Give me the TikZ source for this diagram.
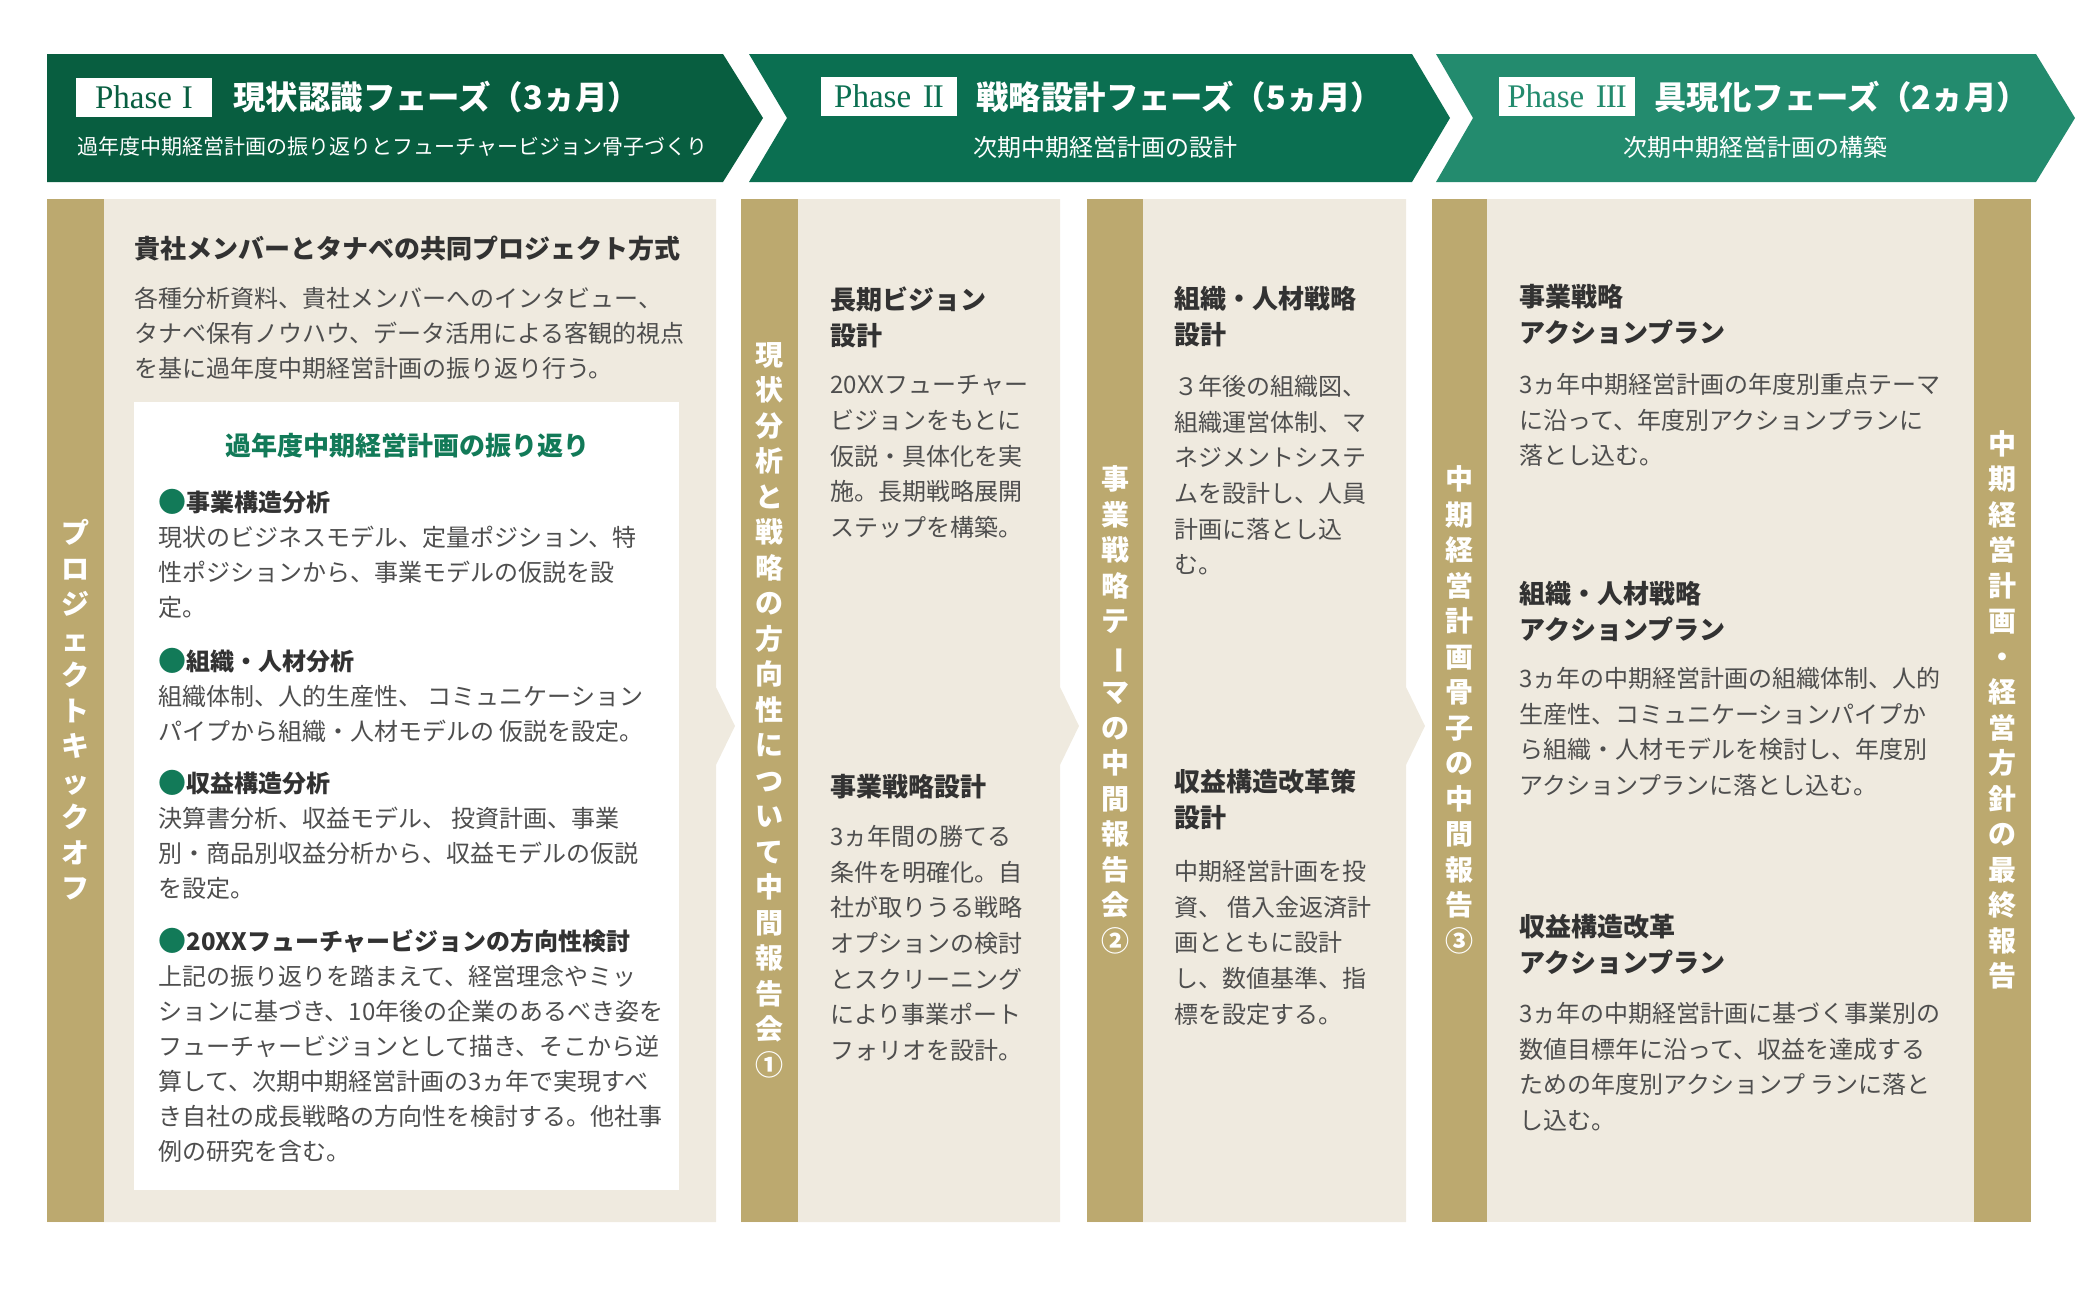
\documentclass[tikz,border=0pt]{standalone}
\usepackage{fontspec}
\setmainfont{Noto Sans CJK JP}
\newfontfamily\phasefont{Liberation Serif}
\usetikzlibrary{positioning}
\definecolor{tnGreenA}{RGB}{8,94,64}
\definecolor{tnGreenB}{RGB}{11,111,81}
\definecolor{tnGreenC}{RGB}{35,139,110}
\definecolor{tnBeige}{RGB}{239,234,223}
\definecolor{tnTan}{RGB}{188,169,111}
\definecolor{tnText}{RGB}{78,78,78}
\definecolor{tnHead}{RGB}{50,50,50}
\definecolor{tnMark}{RGB}{18,122,88}

% stacked (vertical) labels for the tan strips
\makeatletter
\newcommand\tatetext[1]{\vbox{\baselineskip=17.75pt\lineskiplimit=-30pt\@tfor\tnchar:=#1\do{\hbox to 14pt{\hss\tnchar\hss}}}}
\makeatother
\newcommand\tatebar{\rotatebox[origin=c]{-90}{ー}}
\newcommand\tnbullet{{\fontsize{14}{14}\selectfont\raisebox{-0.7pt}{\color{tnMark}●}}}

\begin{document}
\begin{tikzpicture}[x=0.5pt, y=-0.5pt,
    bodytext/.style={anchor=north west, inner sep=0pt, align=left, text=tnText, font=\fontsize{12}{17.8}\selectfont},
    headtext/.style={anchor=north west, inner sep=0pt, align=left, text=tnHead, font=\fontsize{13}{18}\selectfont\bfseries},
    tatelabel/.style={inner sep=0pt, text=white, font=\fontsize{14}{17.75}\selectfont\bfseries},
    phasetag/.style={fill=white, minimum width=68pt, minimum height=19.5pt, inner sep=0pt, font=\phasefont\fontsize{16.5}{16.5}\selectfont},
    phasetitle/.style={anchor=west, inner sep=0pt, text=white, font=\fontsize{16.2}{18}\selectfont\bfseries},
    phasesub/.style={inner sep=0pt, text=white, font=\fontsize{12}{14}\selectfont}
]
    \useasboundingbox (0,0) rectangle (2100,1296);

    % Phase banners
    \fill[tnGreenA] (47,54) -- (723,54) -- (763,118) -- (723,182) -- (47,182) -- cycle;
    \fill[tnGreenB] (749,54) -- (1412,54) -- (1450,118) -- (1412,182) -- (749,182) -- (787,118) -- cycle;
    \fill[tnGreenC] (1436,54) -- (2036,54) -- (2075,118) -- (2036,182) -- (1436,182) -- (1473,118) -- cycle;

    \node[phasetag, text=tnGreenA] (tagone) at (144,97.5) {Phase\hspace{0.3em}I};
    \node[phasetitle] (titleone) at (233,97) {現状認識フェーズ（3ヵ月）};
    \node[phasesub, anchor=west, font=\fontsize{10.5}{12}\selectfont] (subone) at (77,147) {過年度中期経営計画の振り返りとフューチャービジョン骨子づくり};

    \node[phasetag, text=tnGreenB] (tagtwo) at (889,96) {Phase\hspace{0.35em}I\kern-0.03em I};
    \node[phasetitle] (titletwo) at (976,97) {戦略設計フェーズ（5ヵ月）};
    \node[phasesub] (subtwo) at (1105,147) {次期中期経営計画の設計};

    \node[phasetag, text=tnGreenC] (tagthree) at (1567,96) {Phase\hspace{0.35em}I\kern-0.03em I\kern-0.03em I};
    \node[phasetitle] (titlethree) at (1654,97) {具現化フェーズ（2ヵ月）};
    \node[phasesub] (subthree) at (1755,147) {次期中期経営計画の構築};

    % Panels
    \fill[tnBeige] (47,199) -- (716,199) -- (716,687) -- (735,726) -- (716,765) -- (716,1222) -- (47,1222) -- cycle;
    \fill[tnBeige] (741,199) -- (1060,199) -- (1060,687) -- (1079,726) -- (1060,765) -- (1060,1222) -- (741,1222) -- cycle;
    \fill[tnBeige] (1087,199) -- (1406,199) -- (1406,687) -- (1425,726) -- (1406,765) -- (1406,1222) -- (1087,1222) -- cycle;
    \fill[tnBeige] (1432,199) rectangle (2031,1222);

    \fill[tnTan] (47,199) rectangle (104,1222);
    \fill[tnTan] (741,199) rectangle (798,1222);
    \fill[tnTan] (1087,199) rectangle (1143,1222);
    \fill[tnTan] (1432,199) rectangle (1487,1222);
    \fill[tnTan] (1974,199) rectangle (2031,1222);

    \node[tatelabel] (kickoff) at (75.5,710) {\tatetext{プロジェクトキックオフ}};
    \node[tatelabel] (reportone) at (769.5,710) {\tatetext{現状分析と戦略の方向性について中間報告会①}};
    \node[tatelabel] (reporttwo) at (1115,710) {\tatetext{事業戦略テ\tatebar マの中間報告会②}};
    \node[tatelabel] (reportthree) at (1459.5,710) {\tatetext{中期経営計画骨子の中間報告③}};
    \node[tatelabel] (finalreport) at (2002.5,710) {\tatetext{中期経営計画・経営方針の最終報告}};

    % Phase I content
    \node[headtext] (jointhead) at (134,236) {貴社メンバーとタナベの共同プロジェクト方式};
    \node[bodytext, font=\fontsize{12}{17.5}\selectfont] (jointbody) at (134,287) {各種分析資料、貴社メンバーへのインタビュー、\\タナベ保有ノウハウ、データ活用による客観的視点\\を基に過年度中期経営計画の振り返り行う。};

    \fill[white] (134,402) rectangle (679,1190);
    \node[inner sep=0pt, text=tnMark, font=\fontsize{13}{15}\selectfont\bfseries] (reviewhead) at (407,446) {過年度中期経営計画の振り返り};

    \node[bodytext, font=\fontsize{12}{17.5}\selectfont] (structure) at (158,489) {\tnbullet{\color{tnHead}\bfseries 事業構造分析}\\現状のビジネスモデル、定量ポジション、特\\性ポジションから、事業モデルの仮説を設\\定。};
    \node[bodytext, font=\fontsize{12}{17.5}\selectfont] (people) at (158,648) {\tnbullet{\color{tnHead}\bfseries 組織・人材分析}\\組織体制、人的生産性、 コミュニケーション\\パイプから組織・人材モデルの 仮説を設定。};
    \node[bodytext, font=\fontsize{12}{17.5}\selectfont] (profit) at (158,770) {\tnbullet{\color{tnHead}\bfseries 収益構造分析}\\決算書分析、収益モデル、 投資計画、事業\\別・商品別収益分析から、収益モデルの仮説\\を設定。};
    \node[bodytext, font=\fontsize{12}{17.5}\selectfont] (vision) at (158,928) {\tnbullet{\color{tnHead}\bfseries 20XXフューチャービジョンの方向性検討}\\上記の振り返りを踏まえて、経営理念やミッ\\ションに基づき、10年後の企業のあるべき姿を\\フューチャービジョンとして描き、そこから逆\\算して、次期中期経営計画の3ヵ年で実現すべ\\き自社の成長戦略の方向性を検討する。他社事\\例の研究を含む。};

    % Phase II content
    \node[headtext] (visionhead) at (830,286) {長期ビジョン\\設計};
    \node[bodytext] (visionbody) at (830,375) {20XXフューチャー\\ビジョンをもとに\\仮説・具体化を実\\施。長期戦略展開\\ステップを構築。};
    \node[headtext] (bizhead) at (830,774) {事業戦略設計};
    \node[bodytext] (bizbody) at (830,825) {3ヵ年間の勝てる\\条件を明確化。自\\社が取りうる戦略\\オプションの検討\\とスクリーニング\\により事業ポート\\フォリオを設計。};

    \node[headtext] (orghead) at (1174,286) {組織・人材戦略\\設計};
    \node[bodytext] (orgbody) at (1174,375) {３年後の組織図、\\組織運営体制、マ\\ネジメントシステ\\ムを設計し、人員\\計画に落とし込\\む。};
    \node[headtext] (reformhead) at (1174,769) {収益構造改革策\\設計};
    \node[bodytext] (reformbody) at (1174,860) {中期経営計画を投\\資、 借入金返済計\\画とともに設計\\し、数値基準、指\\標を設定する。};

    % Phase III content
    \node[headtext] (bizplanhead) at (1519,284) {事業戦略\\アクションプラン};
    \node[bodytext] (bizplanbody) at (1519,373) {3ヵ年中期経営計画の年度別重点テーマ\\に沿って、年度別アクションプランに\\落とし込む。};
    \node[headtext] (orgplanhead) at (1519,581) {組織・人材戦略\\アクションプラン};
    \node[bodytext] (orgplanbody) at (1519,667) {3ヵ年の中期経営計画の組織体制、人的\\生産性、コミュニケーションパイプか\\ら組織・人材モデルを検討し、年度別\\アクションプランに落とし込む。};
    \node[headtext] (profitplanhead) at (1519,914) {収益構造改革\\アクションプラン};
    \node[bodytext] (profitplanbody) at (1519,1002) {3ヵ年の中期経営計画に基づく事業別の\\数値目標年に沿って、収益を達成する\\ための年度別アクションプ ランに落と\\し込む。};

\end{tikzpicture}
\end{document}
